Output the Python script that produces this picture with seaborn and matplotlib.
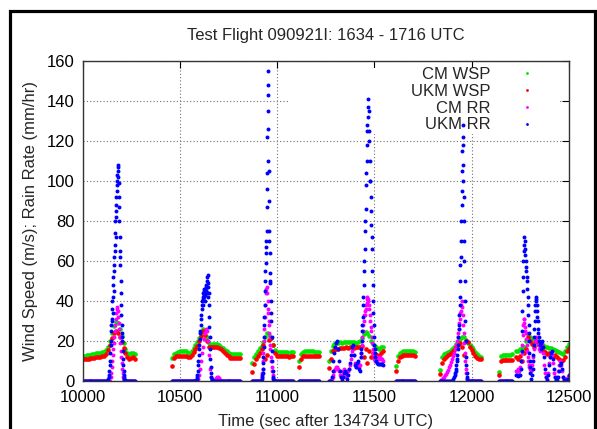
import numpy as np
import pandas as pd
import matplotlib
matplotlib.use("Agg")
import matplotlib.pyplot as plt
from matplotlib.lines import Line2D
from matplotlib.patches import Rectangle
import seaborn as sns

# Start time (s) of each recorded flight leg
leg_start = [10000, 10460, 10870, 11115, 11265, 11610, 11840, 12140, 12230]
WIND_STEP = 10   # wind speed sampled every 10 s
RAIN_STEP = 5    # rain rate binned every 5 s; a tuple holds all readings in that bin

# Wind speed (m/s), one list per leg
cm_wsp = [
    [12.5, 12.5, 12.8, 13.0, 13.0, 13.3, 13.5, 13.8, 14.0, 14.0, 14.5, 14.5, 15.5, 17.0,
     20.0, 24.0, 27.5, 29.5, 29.0, 26.0, 22.5, 19.0, 16.0, 14.0, 13.3, 14.0, 14.0, 13.3],
    [11.5, 13.5, 14.0, 14.5, 14.7, 14.7, 14.7, 14.7, 14.0, 13.8, 15.0, 16.5, 18.0, 19.5,
     21.5, 24.0, 25.8, 25.5, 22.0, 18.8, 18.0, 18.3, 18.3, 18.3, 17.8, 17.0, 16.3, 15.3,
     14.7, 14.0, 13.5, 13.3, 13.3, 13.3, 13.3, 13.3],
    [9.0, 12.0, 13.5, 15.0, 16.3, 17.5, 19.5, 22.0, 24.0, 23.0, 21.5, 18.0, 15.5, 14.5,
     14.5, 14.3, 14.3, 14.5, 14.5, 14.0, 14.3, 14.5],
    [9.7, 13.5, 14.5, 14.7, 14.7, 14.7, 14.7, 14.7, 14.5, 14.5, 14.5],
    [10.0, 15.0, 17.5, 18.5, 19.0, 19.0, 19.3, 19.0, 19.3, 19.5, 19.3, 19.5, 19.5, 19.3,
     19.0, 19.5, 20.0, 21.5, 23.5, 24.5, 24.0, 22.5, 20.0, 18.5, 17.5, 16.5, 16.0, 17.0, 17.0],
    [7.5, 12.5, 14.0, 14.5, 14.7, 14.7, 14.7, 14.7, 14.7, 14.7, 14.5],
    [5.5, 12.0, 13.5, 14.0, 14.5, 15.0, 16.0, 17.0, 18.5, 20.0, 21.0, 22.0, 22.0, 20.5,
     19.0, 18.0, 17.0, 16.0, 14.5, 13.5, 12.5, 12.0],
    [4.5, 12.5, 13.0, 13.0, 13.0, 13.0, 13.0, 13.3],
    [15.0, 15.0, 16.0, 16.5, 17.0, 20.0, 23.5, 22.0, 21.0, 20.0, 20.5, 20.0, 19.5, 19.0,
     18.0, 17.0, 17.0, 16.5, 16.5, 16.0, 15.5, 15.0, 14.5, 14.0, 13.5, 15.0, 17.0, 18.5],
]
ukm_wsp = [
    [10.8, 10.8, 11.0, 11.0, 11.2, 11.5, 11.5, 12.0, 12.0, 12.0, 12.5, 12.5, 13.5, 15.5,
     18.0, 21.5, 24.0, 25.0, 24.0, 22.0, 19.5, 16.5, 14.0, 12.0, 11.0, 11.5, 11.7, 11.0],
    [7.5, 11.5, 12.3, 12.5, 12.5, 12.5, 12.5, 12.5, 12.0, 11.8, 13.0, 14.2, 16.0, 17.5,
     20.0, 22.5, 24.7, 23.0, 19.7, 16.8, 17.0, 17.0, 17.0, 17.0, 16.5, 15.8, 14.7, 13.8,
     13.0, 12.3, 11.5, 11.3, 11.3, 11.3, 11.3, 11.3],
    [4.5, 8.5, 11.0, 12.5, 13.8, 16.0, 18.0, 11.0, 13.0, 20.5, 21.5, 18.0, 14.0, 12.5,
     12.5, 12.3, 12.3, 12.5, 12.5, 12.0, 12.3, 12.5],
    [7.0, 11.0, 12.2, 12.5, 12.5, 12.5, 12.5, 12.5, 12.3, 12.3, 12.3],
    [6.5, 11.0, 15.0, 15.5, 16.0, 16.0, 16.5, 16.5, 16.5, 17.0, 16.5, 17.0, 17.0, 16.5,
     17.0, 17.0, 17.0, 17.5, 12.0, 16.0, 9.0, 15.0, 12.0, 14.0, 13.5, 13.0, 12.5, 14.0, 15.0],
    [5.0, 10.0, 12.0, 12.5, 12.7, 12.7, 12.7, 12.7, 12.7, 12.7, 12.5],
    [3.5, 9.0, 11.0, 12.0, 13.0, 13.5, 14.5, 15.5, 17.0, 18.0, 19.0, 17.0, 13.0, 20.0,
     19.5, 17.0, 15.5, 14.0, 12.5, 11.5, 11.0, 11.0],
    [3.0, 10.0, 10.3, 10.3, 10.3, 10.3, 10.5, 10.5],
    [12.0, 11.0, 12.5, 10.0, 14.0, 16.0, 22.0, 20.0, 18.5, 17.0, 20.0, 19.0, 18.0, 17.0,
     15.0, 14.5, 13.5, 14.0, 12.5, 12.0, 13.0, 12.0, 11.0, 10.0, 10.5, 12.0, 15.0, 16.5],
]

# Rain rate (mm/hr), one list of 5-s bins per leg
cm_rr = [
    [0] * 29
    + [(2, 4), (7, 10), (13, 16), (19, 22), (25, 28), (31, 34), (36, 37), (35, 32),
       (29, 26), (22, 19), (15, 12), (9, 6), (4, 2), (1, 0.5)]
    + [0] * 12,
    [0] * 27 + [1, 3, 6, 10, 14, 17, 21, 24, 26, 25, 20, 13, 6, 2, 0.5]
    + [0, 0, 0.5, 1.5, 2, 2, 1.5, 0.5] + [0] * 21,
    [0] * 10
    + [(2, 4), (6, 10), (14, 20), (26, 32), (38, 44), (46, 47), (44, 40, 36), (34, 28, 24),
       (30, 22, 18), (16, 12), (10, 7), (5, 3), (1.5, 0.5)]
    + [0] * 20,
    [0] * 21,
    [0, 0, 0.5, 1, 2, 3, 5, 6, 7, 7, 6, 5, 3, 2, 3, 5, 6, 4, 2, 3,
     5, 6, 8, 11, 15, 17, 13, 9, 7, 8, 9, 7, 8]
    + [(12, 14), (18, 22), (25, 28), (30, 33), (33, 35), (36, 38), (39, 41), (42, 41),
       (40, 38), (36, 33), (30, 27), (25, 22), (19, 16), (14, 12), 11]
    + [10, 11, 12, 11, 11, 12, 11, 11, 10],
    [0] * 21,
    [0, 0.5, 1, 1.5, 2, 3, 3.5, 4.5, 5.5, 7, 8, 9.5, 11, 12.5, 14, 16, 18, 20]
    + [(22, 24), (26, 29), (31, 34), (35, 38), (40, 37), (33, 28), (24, 19), (14, 10),
       (6, 4), 1]
    + [0] * 15,
    [0] * 15,
    [5, 5, 6, 5, 7]
    + [(10, 14), (18, 23), (28, 31), (31, 29), (27, 25), (24, 21), (18, 15), (12, 10), (8, 7)]
    + [6, 5, 8, 12, 16, 20, 22, 20, 18, 16, 15, 17, 19, 18, 14, 8, 4, 2, 1, 4,
       9, 12, 14, 13, 9, 4, 2, 1, 2, 5, 8, 10, 8, 5, 2, 1, 1, 1, 1, 2, 3],
]
ukm_rr = [
    [0] * 26
    + [(0, 1, 2), (3, 5, 8), (10, 14, 18), (20, 25, 28, 31), (30, 36, 40, 34),
       (42, 48, 52, 45), (55, 62, 58, 65), (68, 74, 80, 72), (82, 88, 85, 92),
       (95, 100, 103, 98), (105, 108, 102, 107), (99, 92, 87, 80), (72, 65, 58, 62),
       (50, 44, 38, 33), (28, 24, 20, 22), (15, 11, 8), (5, 3, 2), (1, 0.5)]
    + [0] * 11,
    [0] * 25
    + [(0.5, 1, 2), (3, 5, 8), (10, 13, 16), (18, 21, 24), (25, 28, 31), (33, 36, 38),
       (40, 42, 38), (44, 41, 45, 43), (42, 46, 44, 40), (46, 43, 47, 45), (45, 48, 44, 50),
       (52, 47, 53, 49), (47, 42, 38, 44), (32, 27, 22), (16, 11, 7), (4, 2, 1)]
    + [0.5] + [0] * 29,
    [0] * 10
    + [(1, 2, 3), (4, 6, 9), (12, 17, 22, 28), (32, 38, 45, 50), (55, 59, 64, 70),
       (67, 75, 87, 96, 104), (122, 135, 148, 155, 143, 126), (110, 105, 90, 75),
       (70, 64, 54, 50), (49, 40, 34), (30, 22, 15), (10, 5, 2), (1, 0.5)]
    + [0] * 20,
    [0] * 21,
    [0, 0, 0, 2, 5, 10, 14, 17, 19, 20, 16, 10, 5, 2, 0.5, 2, 4, 5, 4, 1,
     3, 6, 9, 13, 17, 18, 13, 8, 7, 9, 10, 6, 5]
    + [(12, 14, 16), (20, 25, 28), (32, 38, 42), (48, 55, 60), (66, 75, 80),
       (86, 98, 104), (110, 118, 125), (128, 132, 137), (141, 135, 120), (125, 110, 100),
       (100, 92, 85), (78, 72, 66), (55, 48, 40), (34, 28, 22), (18, 16, 14)]
    + [12, 10, 9, 8.5, 8.5, 8.5, 8.5, 8.5, 8],
    [0] * 21,
    [0] * 13
    + [1, 2, (3, 4, 5), (6, 8, 10), (11, 13, 16), (18, 22, 26), (28, 33, 38), (42, 50, 58),
       (62, 70, 80, 88), (95, 105, 115, 122), (128, 118, 108, 100), (92, 80, 70, 60),
       (50, 40, 30), (20, 12, 8), (4, 2, 1)]
    + [0] * 15,
    [0] * 15,
    [3, 3, 2.5, 3, 3]
    + [(6, 10, 15), (25, 35, 45), (52, 60, 65), (68, 72, 70), (66, 63, 60), (57, 55, 52),
       (50, 46, 42), (38, 33, 28), (24, 20, 14), (10, 7, 4)]
    + [1, 3]
    + [(6, 10, 13), (18, 22, 26), (30, 35, 38), (42, 40, 41), (38, 35, 32), (30, 26, 24),
       (22, 20)]
    + [18, 16, 19, 20, 17, 12, 6, 2, 0.5, 3, 8, 12, 14, 15, 11, 6,
       2, 0.5, 0.5, 2, 5, 8, 9, 6, 2, 0.5, 0.5, 0.5, 0.5, 1, 3],
]

series_names = ["CM WSP", "UKM WSP", "CM RR", "UKM RR"]
series_colors = ["#00e600", "#ff0000", "#ff00ff", "#0000ff"]
x_ticks = [10000, 10500, 11000, 11500, 12000, 12500]
y_ticks = [0, 20, 40, 60, 80, 100, 120, 140, 160]


def expand_bins(t0, step, entries):
    """Spread the readings of each bin evenly across that bin."""
    ts, vs = [], []
    for k, e in enumerate(entries):
        vals = e if isinstance(e, tuple) else (e,)
        for j, v in enumerate(vals):
            ts.append(t0 + step * (k + j / len(vals)))
            vs.append(v)
    return np.array(ts), np.array(vs, dtype=float)


# Long-form table of every sample
frames = []
for i, t0 in enumerate(leg_start):
    assert len(cm_wsp[i]) == len(ukm_wsp[i])
    assert len(cm_rr[i]) == len(ukm_rr[i]) == 2 * len(cm_wsp[i]) - 1
    tw = t0 + WIND_STEP * np.arange(len(cm_wsp[i]))
    frames.append(pd.DataFrame({"time": tw, "value": cm_wsp[i], "series": "CM WSP"}))
    frames.append(pd.DataFrame({"time": tw, "value": ukm_wsp[i], "series": "UKM WSP"}))
    for name, bins in [("CM RR", cm_rr[i]), ("UKM RR", ukm_rr[i])]:
        tr, vr = expand_bins(t0, RAIN_STEP, bins)
        frames.append(pd.DataFrame({"time": tr, "value": vr, "series": name}))
df = pd.concat(frames, ignore_index=True)

sns.set_style("white")
plt.rcParams["font.family"] = ["Liberation Sans", "DejaVu Sans"]

W, H = 597, 429
fig = plt.figure(figsize=(W / 100, H / 100), dpi=100)
ax = fig.add_axes([82.7 / W, 1 - 380.7 / H, (568.7 - 82.7) / W, (380.7 - 60.7) / H])

palette = dict(zip(series_names, series_colors))
sizes = {"CM WSP": 11, "UKM WSP": 11, "CM RR": 8, "UKM RR": 8}
for name in series_names:
    sns.scatterplot(data=df[df["series"] == name], x="time", y="value",
                    color=palette[name], s=sizes[name], linewidth=0, marker="o",
                    ax=ax, legend=False, zorder=2)

ax.set_xlim(x_ticks[0], x_ticks[-1])
ax.set_ylim(y_ticks[0], y_ticks[-1])
ax.set_xticks(x_ticks)
ax.set_yticks(y_ticks)
ax.tick_params(direction="in", length=5, width=0.8, top=True, right=True,
               labelsize=12, colors="black")
ax.tick_params(axis="x", pad=7)
ax.tick_params(axis="y", pad=6)
ax.set_axisbelow(True)
ax.grid(True, color="#707070", linestyle=(0, (1, 2)), linewidth=0.8)
for sp in ax.spines.values():
    sp.set_color("#333333")
    sp.set_linewidth(1.0)
    sp.set_zorder(5)

ax.set_title("Test Flight 090921I: 1634 - 1716 UTC", fontsize=12, pad=15)
ax.set_xlabel("Time (sec after 134734 UTC)", fontsize=12, labelpad=6)
ax.set_ylabel("Wind Speed (m/s); Rain Rate (mm/hr)", fontsize=12, labelpad=6)

# Opaque key area: hides the grid but stays under the data points
ax.add_patch(Rectangle((0.4245, 0.771), 0.553, 0.2065, transform=ax.transAxes,
                       facecolor="white", edgecolor="none", zorder=1.2))

handles = [Line2D([], [], ls="", marker="o", markersize=2, markeredgewidth=0, color=c)
           for c in series_colors]
leg = ax.legend(handles, series_names, loc="upper right", bbox_to_anchor=(0.9588, 0.996),
                markerfirst=False, frameon=False, fontsize=12, labelspacing=0.11,
                handletextpad=1.2, borderpad=0.3, borderaxespad=0.0, handlelength=2.0)
leg.set_zorder(1.5)

# Heavy page frame
fig.patches.append(Rectangle((9.5 / W, -0.05), (594.5 - 9.5) / W, 1.05 - 10.8 / H,
                             transform=fig.transFigure, fill=False, edgecolor="black",
                             linewidth=2.3, clip_on=False))

fig.savefig("out.png", dpi=100)
